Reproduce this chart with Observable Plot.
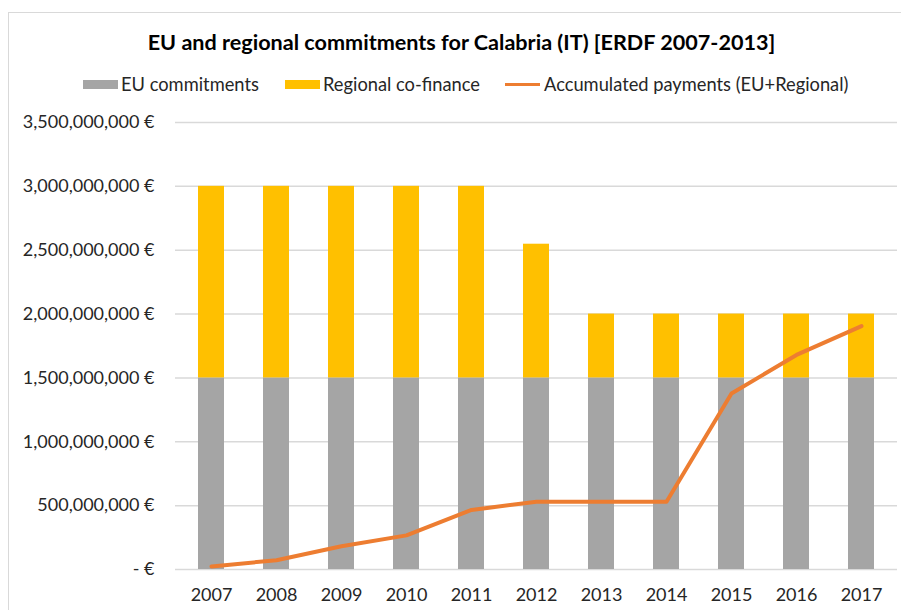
<!DOCTYPE html>
<html>
<head>
<meta charset="utf-8">
<script src="https://cdn.jsdelivr.net/npm/d3@7"></script>
<script src="https://cdn.jsdelivr.net/npm/@observablehq/plot@0.6"></script>
<style>
  html, body { margin: 0; padding: 0; background: #fff; width: 901px; height: 610px; overflow: hidden; }
  #frame { position: absolute; left: 8px; top: 12px; width: 1000px; height: 1000px; border: 1px solid #d9d9d9; box-sizing: border-box; }
  #title { position: absolute; left: 0; width: 923px; top: 28px; text-align: center; font-family: Lato, sans-serif; font-weight: bold; font-size: 21.6px; color: #000; line-height: 28px; white-space: nowrap; }
  .leg { position: absolute; top: 74px; height: 20px; font-family: Lato, sans-serif; font-size: 18.3px; color: #262626; line-height: 20px; white-space: nowrap; }
  .sw { position: absolute; }
  #chart { position: absolute; left: 0; top: 100px; }
</style>
</head>
<body>
<div id="frame"></div>
<div id="title">EU and regional commitments for Calabria (IT) [ERDF 2007-2013]</div>
<div id="legend"></div>
<div id="chart"></div>
<script>
const years = ["2007","2008","2009","2010","2011","2012","2013","2014","2015","2016","2017"];
const euCommitments = [1500e6,1500e6,1500e6,1500e6,1500e6,1500e6,1500e6,1500e6,1500e6,1500e6,1500e6];
const regionalCofinance = [1500e6,1500e6,1500e6,1500e6,1500e6,1047e6,500e6,500e6,500e6,500e6,500e6];
const accumulatedPayments = [24e6,73e6,182e6,267e6,466e6,531e6,531e6,531e6,1378e6,1680e6,1906e6];
const yTicks = [0,500e6,1000e6,1500e6,2000e6,2500e6,3000e6,3500e6];
const seriesNames = ["EU commitments","Regional co-finance","Accumulated payments (EU+Regional)"];
const seriesColors = ["#A5A5A5","#FFC000","#ED7D31"];

// Legend
const legendLayout = [
  {swLeft: 83, txtLeft: 121, type: "box"},
  {swLeft: 285, txtLeft: 323, type: "box"},
  {swLeft: 505, txtLeft: 544, type: "line"}
];
const legend = document.getElementById("legend");
seriesNames.forEach((name, i) => {
  const L = legendLayout[i];
  const sw = document.createElement("div");
  sw.className = "sw";
  sw.style.left = L.swLeft + "px";
  sw.style.width = "35px";
  sw.style.background = seriesColors[i];
  if (L.type === "box") { sw.style.top = "80px"; sw.style.height = "9px"; }
  else { sw.style.top = "83px"; sw.style.height = "3px"; }
  legend.appendChild(sw);
  const t = document.createElement("div");
  t.className = "leg";
  t.style.left = L.txtLeft + "px";
  t.textContent = name;
  legend.appendChild(t);
});

const stacked = [];
years.forEach((y, i) => {
  stacked.push({year: y, series: seriesNames[0], value: euCommitments[i]});
  stacked.push({year: y, series: seriesNames[1], value: regionalCofinance[i]});
});
const line = years.map((y, i) => ({year: y, value: accumulatedPayments[i]}));

const fmt = d3.format(",");
const chart = Plot.plot({
  width: 901,
  height: 510,
  marginLeft: 175,
  marginRight: 4,
  marginTop: 22,
  marginBottom: 41,
  style: {fontFamily: "Lato, sans-serif", fontSize: "18px", color: "#262626", background: "transparent"},
  x: {type: "band", domain: years, paddingInner: 0.6, paddingOuter: 0.3, label: null},
  y: {domain: [0, 3500e6], label: null},
  color: {domain: seriesNames.slice(0,2), range: seriesColors.slice(0,2)},
  marks: [
    Plot.ruleY(yTicks, {stroke: "#d9d9d9", strokeWidth: 1.5}),
    Plot.barY(stacked, {x: "year", y: "value", fill: "series", order: seriesNames}),
    Plot.lineY(line, {x: "year", y: "value", stroke: seriesColors[2], strokeWidth: 4, strokeLinecap: "round", strokeLinejoin: "round"}),
    Plot.axisY(yTicks, {tickSize: 0, tickPadding: 21, fill: "#262626", tickFormat: d => d === 0 ? "- €" : fmt(d) + " €"}),
    Plot.axisX({tickSize: 0, tickPadding: 19, fill: "#262626", label: null})
  ]
});
document.getElementById("chart").appendChild(chart);
</script>
</body>
</html>
